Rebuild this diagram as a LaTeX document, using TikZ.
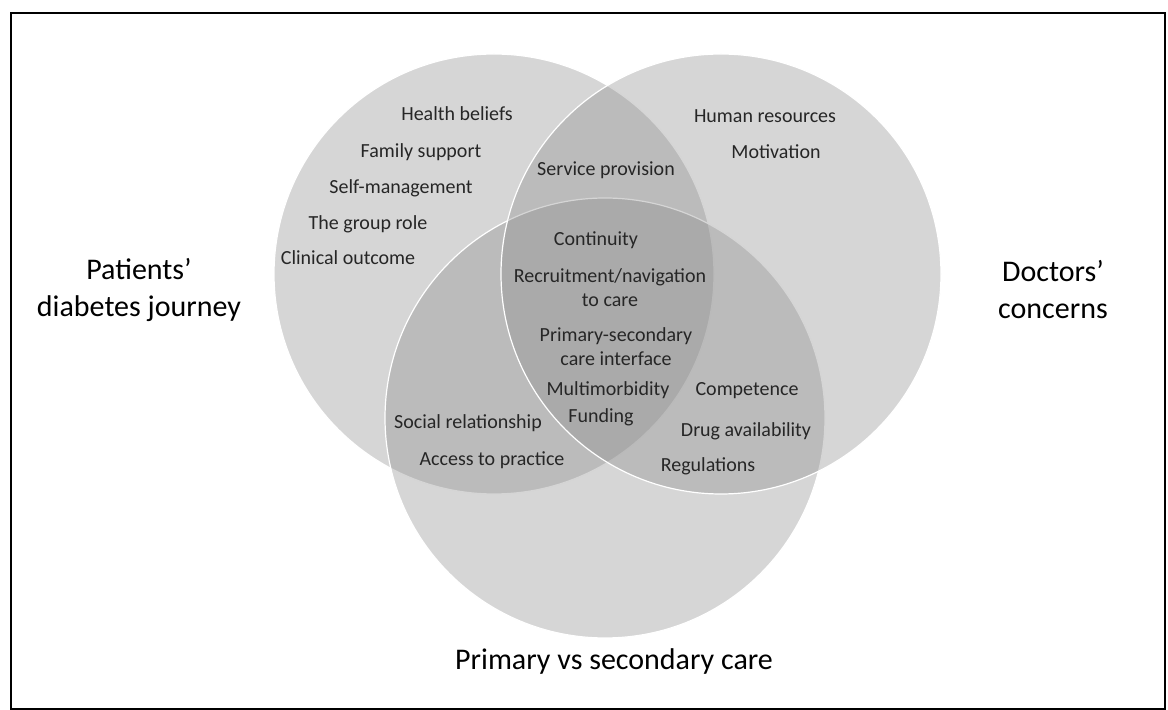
\documentclass[tikz,border=0pt]{standalone}
\usepackage{fontspec}
\setmainfont{Carlito}

\begin{document}
\begin{tikzpicture}[x=0.5pt,y=-0.5pt,
set/.style={circle, draw=white, line width=0.6pt, fill=black!45, fill opacity=0.36, minimum size=220pt, inner sep=0pt},
item/.style={align=center, text=black!85, font=\fontsize{10}{12}\selectfont},
title/.style={align=center, text=black, font=\fontsize{15}{18.5}\selectfont}]

\useasboundingbox (0,0) rectangle (1168,710);
\draw[line width=0.9pt] (11,13) rectangle (1165,709);

% the three sets
\draw (494,274) node[set] (pat) {};
\draw (605,418) node[set] (care) {};
\draw (721,274) node[set] (doc) {};

\draw (139,290) node[title] (patT) {Patients’\\diabetes journey};
\draw (1053,290) node[title] (docT) {Doctors’\\concerns};
\draw (614,662) node[title] (careT) {Primary vs secondary care};

% patients only
\draw (457,114) node[item] (hb) {Health beliefs};
\draw (421,152) node[item] (fs) {Family support};
\draw (401,188) node[item] (sm) {Self-management};
\draw (368,224) node[item] (gr) {The group role};
\draw (348,258) node[item] (co) {Clinical outcome};

% doctors only
\draw (765,116) node[item] (hr) {Human resources};
\draw (776,152) node[item] (mo) {Motivation};

% overlaps
\draw (606,170) node[item] (sp) {Service provision};
\draw (596,240) node[item] (cn) {Continuity};
\draw (610,288) node[item] (rn) {Recruitment/navigation\\to care};
\draw (616,347) node[item] (ps) {Primary-secondary\\care interface};
\draw (608,390) node[item] (mm) {Multimorbidity};
\draw (601,417) node[item] (fu) {Funding};
\draw (747,391) node[item] (cp) {Competence};
\draw (746,431) node[item] (da) {Drug availability};
\draw (708,466) node[item] (rg) {Regulations};
\draw (468,423) node[item] (sr) {Social relationship};
\draw (492,460) node[item] (ap) {Access to practice};
\end{tikzpicture}
\end{document}
